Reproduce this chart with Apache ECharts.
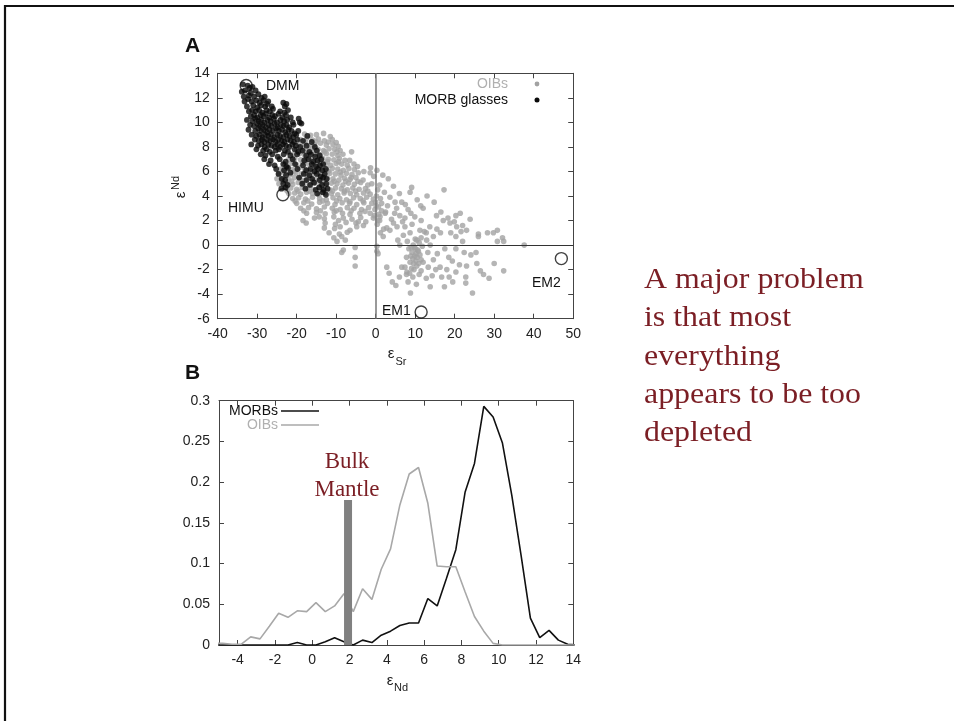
<!DOCTYPE html>
<html>
<head>
<meta charset="utf-8">
<script src="https://cdn.jsdelivr.net/npm/echarts@6/dist/echarts.min.js"></script>
<style>
  html, body { margin: 0; padding: 0; background: #fff; }
  #chart { width: 954px; height: 721px; }
</style>
</head>
<body>
<div id="chart"></div>
<script>
// Panel A: eSr vs eNd for ocean island basalts (grey) and MORB glasses (black)
const oibPoints = [
  [-18.0,9.05],[-16.5,8.95],[-15.0,9.0],[-13.2,9.1],[-11.5,8.85],
  [-19.0,8.6],[-17.5,8.7],[-16.0,8.55],[-14.5,8.65],[-13.0,8.5],[-11.0,8.6],[-10.0,8.35],
  [-19.5,8.2],[-18.0,8.25],[-16.8,8.1],[-15.5,8.2],[-14.0,8.3],[-12.5,8.15],[-10.8,8.2],[-9.5,8.05],
  [-20.0,7.8],[-18.5,7.85],[-17.2,7.75],[-16.0,7.9],[-14.6,7.8],[-13.2,7.7],[-11.8,7.85],[-10.4,7.8],[-9.0,7.7],
  [-21.0,7.4],[-19.3,7.45],[-18.0,7.35],[-16.7,7.5],[-15.3,7.4],[-14.0,7.35],[-12.5,7.45],[-11.0,7.4],[-9.6,7.3],[-8.3,7.4],[-6.1,7.6],
  [-22.0,7.0],[-20.5,7.05],[-19.0,6.95],[-17.6,7.1],[-16.2,7.0],[-14.8,6.9],[-13.4,7.05],[-12.0,7.0],[-10.6,6.95],[-9.2,7.05],[-7.8,6.9],
  [-23.0,6.6],[-21.5,6.65],[-20.0,6.55],[-18.5,6.7],[-17.0,6.6],[-15.6,6.5],[-14.2,6.65],[-12.8,6.6],[-11.4,6.5],[-10.0,6.65],[-8.6,6.6],[-7.2,6.5],[-5.5,6.6],
  [-24.0,6.2],[-22.5,6.25],[-21.0,6.15],[-19.4,6.3],[-18.0,6.2],[-16.6,6.1],[-15.2,6.25],[-13.8,6.2],[-12.4,6.1],[-11.0,6.25],[-9.6,6.2],[-8.2,6.1],[-6.8,6.25],[-5.4,6.15],[-1.3,6.3],[0.3,6.1],
  [-24.5,5.8],[-23.0,5.85],[-21.6,5.75],[-20.2,5.9],[-18.8,5.8],[-17.3,5.7],[-15.9,5.85],[-14.5,5.8],[-13.0,5.7],[-11.6,5.85],[-10.2,5.8],[-8.8,5.7],[-7.4,5.85],[-6.0,5.75],[-4.4,5.9],[-1.4,5.9],[1.8,5.7],
  [-25.0,5.4],[-23.5,5.45],[-22.0,5.35],[-20.6,5.5],[-19.2,5.4],[-17.8,5.3],[-16.4,5.45],[-15.0,5.4],[-13.6,5.3],[-12.2,5.45],[-10.8,5.4],[-9.3,5.3],[-7.9,5.45],[-6.5,5.35],[-5.0,5.5],[-3.2,5.3],[3.2,5.4],
  [-24.5,5.0],[-22.5,5.05],[-21.0,4.95],[-19.6,5.1],[-18.2,5.0],[-16.8,4.9],[-15.4,5.05],[-14.0,5.0],[-12.6,4.9],[-11.2,5.05],[-9.8,5.0],[-8.3,4.9],[-6.9,5.05],[-5.4,4.95],[-3.8,5.1],[-2.0,4.9],[4.5,4.8],
  [-23.0,4.6],[-21.5,4.65],[-20.0,4.55],[-18.6,4.7],[-17.2,4.6],[-15.8,4.5],[-14.4,4.65],[-13.0,4.6],[-11.6,4.5],[-10.2,4.65],[-8.7,4.6],[-7.2,4.5],[-5.8,4.65],[-4.2,4.55],[-2.6,4.6],[0.5,4.5],[9.1,4.7],[17.3,4.5],
  [-22.0,4.2],[-20.5,4.25],[-19.0,4.15],[-17.5,4.3],[-16.0,4.2],[-14.4,4.1],[-12.8,4.25],[-11.2,4.2],[-9.6,4.1],[-8.0,4.25],[-6.4,4.2],[-4.8,4.1],[-3.1,4.25],[-1.4,4.15],[3.6,3.9],[8.7,4.3],[13.0,4.0],
  [-21.0,3.8],[-19.5,3.85],[-17.8,3.75],[-16.0,3.9],[-14.2,3.8],[-12.5,3.7],[-10.8,3.85],[-9.1,3.8],[-7.4,3.7],[-5.6,3.85],[-3.9,3.8],[-2.3,3.9],[-0.6,3.75],[1.2,3.8],[4.9,3.5],[10.5,3.7],
  [-20.0,3.4],[-18.2,3.45],[-16.2,3.35],[-14.2,3.5],[-12.2,3.4],[-10.3,3.3],[-8.5,3.45],[-6.6,3.4],[-4.8,3.3],[-3.0,3.45],[-1.0,3.4],[0.7,3.1],[2.5,2.7],[6.6,3.5],[14.8,3.5],
  [-19.0,3.0],[-17.0,3.05],[-15.0,2.95],[-13.0,3.1],[-11.0,3.0],[-9.0,2.9],[-7.2,3.05],[-5.5,3.0],[-3.6,2.9],[-1.8,3.05],[-0.2,2.9],[1.5,3.4],[5.3,3.0],[8.2,2.9],[12.0,3.0],
  [-17.5,2.6],[-15.0,2.65],[-12.8,2.55],[-10.5,2.7],[-8.4,2.6],[-6.5,2.5],[-4.0,2.6],[-1.4,2.6],[0.8,2.5],[2.4,2.6],[6.1,2.4],[9.9,2.3],[15.4,2.4],[20.3,2.4],[21.4,2.6],
  [-18.4,2.0],[-15.5,2.2],[-13.0,2.15],[-10.6,2.3],[-8.2,2.2],[-6.0,2.1],[-3.8,2.25],[-0.6,2.2],[1.1,2.3],[4.0,2.1],[7.4,2.2],[11.5,2.0],[17.1,2.0],[23.9,2.1],
  [-17.6,1.8],[-12.8,1.8],[-10.2,1.7],[-7.5,1.85],[-5.0,1.8],[-2.5,1.9],[0.4,1.7],[4.5,1.8],[6.8,1.9],[13.7,1.5],[18.8,1.8],[19.9,1.9],[22.0,1.6],
  [-13.0,1.4],[-10.4,1.35],[-9.0,1.5],[-6.5,1.2],[-4.8,1.5],[-3.1,1.6],[2.8,1.4],[7.4,1.5],[11.2,1.2],[15.5,1.3],[20.5,1.5],[21.6,1.1],[30.8,1.2],
  [-11.8,1.0],[-9.2,0.9],[-7.2,1.05],[1.2,1.0],[3.6,1.2],[8.7,1.0],[12.3,1.1],[26.0,0.9],[28.3,1.0],[29.8,1.0],
  [-10.6,0.6],[-7.7,0.4],[1.9,0.7],[5.6,0.4],[10.4,0.4],[14.6,0.7],[20.3,0.7],[26.0,0.7],[32.1,0.6],
  [-9.8,0.3],[-8.6,0.7],[0.3,-0.1],[6.1,0.0],[9.5,0.0],[11.0,0.2],[12.9,0.4],[22.0,0.3],[30.8,0.3],[32.4,0.3],
  [-8.2,-0.4],[-5.2,-0.2],[0.3,-0.5],[8.4,-0.3],[9.8,-0.2],[10.6,-0.4],[11.8,-0.1],[17.5,-0.3],[20.3,-0.3],[37.6,0.0],
  [-8.6,-0.6],[0.6,-0.7],[9.2,-0.6],[10.2,-0.7],[10.8,-0.5],[11.2,-0.8],[13.2,-0.6],[22.4,-0.6],[25.4,-0.6],
  [-5.2,-1.0],[7.8,-1.0],[9.4,-1.1],[9.9,-0.9],[10.5,-1.0],[11.5,-1.2],[14.6,-1.2],[18.5,-1.0],[24.1,-0.8],
  [8.7,-1.4],[9.6,-1.5],[10.2,-1.3],[12.0,-1.4],[16.3,-1.8],[25.6,-1.5],
  [-5.2,-1.7],[2.8,-1.8],[6.6,-1.8],[7.4,-1.8],[9.1,-1.9],[10.4,-1.7],[13.3,-1.8],[15.2,-2.0],[18.0,-2.0],[21.2,-1.6],
  [3.4,-2.3],[7.9,-2.2],[8.6,-2.3],[11.5,-2.1],[16.7,-2.6],[20.3,-2.2],[27.3,-2.4],[32.4,-2.1],
  [7.8,-2.4],[9.4,-2.6],[12.8,-2.7],[22.8,-2.6],[28.7,-2.7],
  [4.2,-3.0],[8.2,-3.0],[13.8,-3.4],[19.5,-3.0],[22.8,-3.1],
  [5.1,-3.3],[17.4,-3.4],[8.8,-3.9],[24.5,-3.9],
  [9.0,-0.2],[10.0,0.5],[11.5,0.6],[8.9,-0.9],[10.9,-1.5],[9.7,-2.0],[11.0,-2.4],[10.1,-0.3],
  [0.0,3.5],[-0.3,2.4],[0.5,2.0],[0.2,4.0],[1.5,2.8],
  [-17.8,8.4],[-15.2,8.45],[-12.0,8.4],[-9.8,7.6],[-12.9,7.6],[-15.8,7.6],[-18.8,7.6],
  [-20.8,6.8],[-17.9,6.8],[-15.0,6.75],[-12.2,6.8],[-9.4,6.8],[-6.6,6.9],[-4.6,6.4],
  [-23.6,6.0],[-20.7,6.0],[-17.7,5.95],[-14.9,6.0],[-12.0,6.0],[-9.0,5.95],[-6.2,5.5],[-3.0,6.0],[-0.5,5.6],
  [-23.8,5.2],[-21.3,5.2],[-18.7,5.25],[-15.9,5.2],[-13.2,5.15],[-10.5,5.2],[-7.6,5.2],[-4.5,5.2],[-1.0,5.0],[1.0,4.9],
  [-22.4,4.4],[-19.7,4.4],[-16.8,4.4],[-13.8,4.35],[-10.9,4.4],[-7.9,4.4],[-5.1,4.4],[-2.0,4.4],[2.2,4.3],[6.0,4.2],
  [-20.4,3.6],[-17.2,3.6],[-13.4,3.6],[-9.9,3.6],[-6.5,3.55],[-3.2,3.6],[0.1,3.2],[3.0,3.2],[7.5,3.3],[11.4,3.2],
  [-18.2,2.8],[-14.0,2.8],[-10.0,2.8],[-6.2,2.8],[-2.7,2.75],[1.0,2.0],[4.8,2.6],[8.9,2.6],[16.5,2.7],[18.3,2.2],
  [-14.3,2.3],[-9.4,2.0],[-4.4,1.9],[2.0,1.3],[5.4,1.5],[9.2,1.7],[12.8,1.0],[16.4,1.0],[19.0,1.0],[23.0,1.2],
  [7.0,0.8],[8.0,0.3],[13.8,0.0],[15.6,-0.7],[19.4,-1.3],[23.0,-1.7],[14.3,-2.5],[6.0,-2.6],[10.3,-3.2],[18.6,-2.6],[26.5,-2.1],[30.0,-1.5]
];

const morbPoints = [
  [-33.6,13.1],[-32.4,13.0],[-31.9,12.8],[-31.2,12.9],
  [-33.9,12.5],[-33.1,12.6],[-31.6,12.4],[-30.4,12.6],
  [-33.4,12.1],[-32.1,12.2],[-30.8,12.1],[-29.7,12.3],[-28.9,12.0],[-28.1,12.1],
  [-33.2,11.7],[-32.3,11.9],[-31.4,11.7],[-30.2,11.8],[-29.4,11.6],[-28.4,11.8],[-27.2,11.7],[-23.4,11.6],
  [-32.6,11.3],[-31.0,11.4],[-30.0,11.2],[-29.0,11.4],[-28.0,11.3],[-27.5,11.5],[-26.3,11.3],[-23.0,11.3],[-22.6,11.5],
  [-32.1,10.9],[-31.3,11.0],[-30.4,10.9],[-29.5,11.0],[-28.7,10.8],[-27.6,11.0],[-26.8,10.9],[-26.0,11.1],[-24.2,10.9],[-23.1,10.8],[-22.2,11.0],
  [-31.6,10.5],[-30.8,10.6],[-30.0,10.4],[-29.1,10.6],[-28.4,10.5],[-27.8,10.7],[-27.0,10.4],[-26.2,10.6],[-25.5,10.5],[-24.6,10.7],[-23.6,10.4],[-22.7,10.6],[-21.5,10.4],[-19.5,10.3],
  [-32.6,10.2],[-31.2,10.1],[-30.5,10.3],[-29.6,10.1],[-29.0,10.2],[-28.2,10.0],[-27.4,10.2],[-26.6,10.1],[-25.8,10.3],[-25.0,10.0],[-24.1,10.2],[-23.2,10.1],[-22.4,10.2],[-21.0,10.0],[-19.2,10.0],
  [-31.8,9.8],[-30.8,9.7],[-30.0,9.9],[-29.3,9.7],[-28.6,9.8],[-27.8,9.6],[-27.1,9.8],[-26.4,9.7],[-25.6,9.9],[-24.8,9.6],[-24.0,9.8],[-23.3,9.7],[-22.6,9.8],[-21.9,9.6],[-20.8,9.8],[-18.8,9.9],
  [-32.2,9.4],[-30.5,9.3],[-29.7,9.5],[-29.0,9.3],[-28.3,9.4],[-27.5,9.2],[-26.9,9.4],[-26.0,9.3],[-25.2,9.5],[-24.5,9.3],[-23.7,9.4],[-22.9,9.2],[-22.1,9.4],[-21.3,9.3],[-20.5,9.1],[-19.6,9.3],
  [-31.4,9.0],[-30.2,8.9],[-29.4,9.0],[-28.7,8.8],[-28.0,9.0],[-27.2,8.9],[-26.5,9.0],[-25.7,8.8],[-24.9,9.0],[-24.2,8.9],[-23.4,8.8],[-22.6,9.0],[-21.8,8.9],[-20.9,8.8],[-20.1,9.0],[-17.3,8.9],
  [-30.6,8.6],[-29.6,8.5],[-28.8,8.6],[-28.2,8.4],[-27.5,8.6],[-26.7,8.5],[-26.0,8.6],[-25.3,8.4],[-24.6,8.6],[-23.8,8.5],[-23.1,8.4],[-22.3,8.6],[-21.5,8.5],[-20.7,8.4],[-19.8,8.6],[-18.4,8.5],[-16.2,8.4],
  [-31.5,8.2],[-29.8,8.1],[-28.9,8.2],[-28.1,8.0],[-27.2,8.2],[-26.4,8.1],[-25.6,8.0],[-24.9,8.2],[-24.2,8.0],[-23.5,8.2],[-22.7,8.1],[-21.9,8.0],[-21.1,8.2],[-20.2,8.1],[-19.1,8.0],[-17.5,8.1],[-15.4,8.0],
  [-30.2,7.8],[-28.5,7.7],[-27.6,7.8],[-26.8,7.6],[-25.3,7.7],[-24.5,7.8],[-23.0,7.7],[-22.2,7.6],[-20.5,7.8],[-19.6,7.6],[-18.5,7.7],[-16.8,7.6],[-14.9,7.7],
  [-29.1,7.4],[-27.9,7.3],[-26.2,7.4],[-24.8,7.2],[-23.3,7.4],[-21.6,7.3],[-19.9,7.4],[-17.6,7.3],[-16.4,7.4],[-15.3,7.2],[-14.2,7.3],
  [-28.2,7.0],[-26.6,6.9],[-24.3,7.0],[-22.8,6.8],[-21.0,7.0],[-18.1,6.9],[-17.0,7.0],[-15.8,6.8],[-14.7,6.9],[-13.8,7.0],
  [-27.0,6.6],[-25.6,6.5],[-23.4,6.6],[-22.6,6.4],[-20.4,6.6],[-18.4,6.5],[-16.2,6.6],[-15.1,6.4],[-14.1,6.5],[-13.3,6.6],
  [-25.2,6.2],[-23.2,6.1],[-22.2,6.3],[-19.8,6.2],[-17.6,6.1],[-16.5,6.2],[-15.5,6.0],[-14.6,6.2],[-13.5,6.1],[-12.6,6.2],
  [-24.6,5.8],[-22.7,5.7],[-21.6,5.9],[-18.2,5.8],[-16.8,5.7],[-14.9,5.8],[-13.9,5.6],[-12.9,5.8],
  [-23.8,5.4],[-22.9,5.3],[-19.4,5.5],[-17.5,5.3],[-16.1,5.4],[-14.2,5.3],[-13.3,5.5],[-12.4,5.4],
  [-23.4,5.0],[-22.3,4.9],[-18.6,5.0],[-16.6,4.9],[-15.6,5.1],[-13.6,4.9],[-12.5,5.0],
  [-23.9,4.6],[-22.8,4.7],[-17.8,4.6],[-15.2,4.5],[-14.3,4.7],[-13.2,4.5],[-12.2,4.6],
  [-14.8,4.2],[-13.4,4.3],[-12.6,4.1]
];

// Mantle end-member compositions (open circles) and their names
const endMembers = [[-32.8, 13.0], [-23.5, 4.1], [11.5, -5.45], [47.0, -1.1]];
const endMemberNames = ['DMM', 'HIMU', 'EM1', 'EM2'];

// Panel B: eNd frequency distributions, bins every 0.5
const histX = [-5.3,-4.8,-4.3,-3.8,-3.3,-2.8,-2.3,-1.8,-1.3,-0.8,-0.3,0.2,0.7,1.2,1.7,2.2,2.7,3.2,3.7,4.2,
               4.7,5.2,5.7,6.2,6.7,7.2,7.7,8.2,8.7,9.2,9.7,10.2,10.7,11.2,11.7,12.2,12.7,13.2,13.7,14.2];
const morbFreq = [0,0,0,0,0,0,0,0,0,0.003,0,0,0.004,0.009,0.004,0,0.006,0.003,0.012,0.017,
                  0.024,0.027,0.027,0.057,0.048,0.082,0.117,0.188,0.223,0.293,0.280,0.248,0.184,0.110,0.033,0.009,0.018,0.006,0.001,0];
const oibFreq = [0.002,0.002,0.001,0.001,0.010,0.0075,0.023,0.039,0.034,0.042,0.041,0.052,0.041,0.048,0.063,0.041,0.069,0.056,0.093,0.118,
                 0.172,0.210,0.218,0.174,0.097,0.096,0.096,0.065,0.035,0.017,0.002,0,0,0,0,0,0,0,0,0];
const bulkMantle = [1.92, 0.178];
const ndTickValues = [-4, -2, 0, 2, 4, 6, 8, 10, 12, 14];

const SANS = '"Liberation Sans", Arial, Helvetica, sans-serif';
const SERIF = '"Liberation Serif", "Times New Roman", serif';
const AXIS_COLOR = '#444';
const RED = '#7b1e24';

function frameAxis(gridIndex, position, opts) {
  const showLabel = position === 'bottom' || position === 'left';
  return Object.assign({
    type: 'value',
    gridIndex: gridIndex,
    position: position,
    axisLine: { show: true, onZero: false, lineStyle: { color: AXIS_COLOR, width: 1 } },
    axisTick: { show: true, inside: true, length: 5, lineStyle: { color: AXIS_COLOR, width: 1 } },
    splitLine: { show: false },
    axisLabel: { show: showLabel, color: '#222', fontSize: 14, fontFamily: SANS, margin: 8 }
  }, opts);
}

const srAxis = { min: -40, max: 50, interval: 10 };
const ndAxisA = { min: -6, max: 14, interval: 2 };
const ndAxisB = {
  min: -5, max: 14,
  axisTick: { show: true, inside: true, length: 5, customValues: ndTickValues, lineStyle: { color: AXIS_COLOR, width: 1 } }
};
const freqAxis = { min: 0, max: 0.3, interval: 0.05 };

function txt(x, y, text, font, fill, align, valign, extra) {
  return Object.assign({
    type: 'text', x: x, y: y, z: 100,
    style: { text: text, font: font, fill: fill,
             textAlign: align || 'left', textVerticalAlign: valign || 'middle',
             align: align || 'left', verticalAlign: valign || 'middle' }
  }, extra || {});
}

const chart = echarts.init(document.getElementById('chart'), null, { renderer: 'canvas' });

chart.setOption({
  animation: false,
  backgroundColor: '#ffffff',
  grid: [
    { left: 217.7, top: 73.3, width: 355.5, height: 245.4 },
    { left: 219, top: 400.7, width: 354.3, height: 244.3 }
  ],
  xAxis: [
    frameAxis(0, 'bottom', srAxis),
    frameAxis(0, 'top', srAxis),
    frameAxis(1, 'bottom', Object.assign({}, ndAxisB, {
      axisLabel: { show: true, color: '#222', fontSize: 14, fontFamily: SANS, margin: 8, customValues: ndTickValues }
    })),
    frameAxis(1, 'top', ndAxisB)
  ],
  yAxis: [
    frameAxis(0, 'left', ndAxisA),
    frameAxis(0, 'right', ndAxisA),
    frameAxis(1, 'left', Object.assign({}, freqAxis, {
      axisLabel: { show: true, color: '#222', fontSize: 14, fontFamily: SANS, margin: 9 }
    })),
    frameAxis(1, 'right', freqAxis)
  ],
  series: [
    {
      name: 'OIBs', type: 'scatter', xAxisIndex: 0, yAxisIndex: 0,
      data: oibPoints, symbol: 'circle', symbolSize: 5.6,
      itemStyle: { color: '#a2a2a2' },
      markLine: {
        silent: true, symbol: ['none', 'none'], label: { show: false },
        data: [
          { xAxis: 0, lineStyle: { color: '#777', width: 1.5, type: 'solid' } },
          { yAxis: 0, lineStyle: { color: '#333', width: 1, type: 'solid' } }
        ]
      }
    },
    {
      name: 'MORB glasses', type: 'scatter', xAxisIndex: 0, yAxisIndex: 0,
      data: morbPoints, symbol: 'circle', symbolSize: 5.8,
      itemStyle: { color: '#0a0a0a' }
    },
    {
      name: 'end members', type: 'scatter', xAxisIndex: 0, yAxisIndex: 0,
      data: endMembers, symbol: 'circle', symbolSize: 12, z: 5,
      itemStyle: { color: 'rgba(255,255,255,0)', borderColor: '#111', borderWidth: 1.4 }
    },
    {
      name: 'MORBs', type: 'line', xAxisIndex: 2, yAxisIndex: 2,
      data: histX.map((x, i) => [x, morbFreq[i]]),
      showSymbol: false, clip: true,
      lineStyle: { color: '#111', width: 1.6 }
    },
    {
      name: 'OIBs', type: 'line', xAxisIndex: 2, yAxisIndex: 2,
      data: histX.map((x, i) => [x, oibFreq[i]]),
      showSymbol: false, clip: true,
      lineStyle: { color: '#a8a8a8', width: 1.6 }
    },
    {
      name: 'Bulk Mantle', type: 'bar', xAxisIndex: 2, yAxisIndex: 2,
      data: [bulkMantle], barWidth: 8, z: 4,
      itemStyle: { color: '#808080' }
    }
  ],
  graphic: [
    // slide frame
    { type: 'line', z: 100, shape: { x1: 4, y1: 6, x2: 954, y2: 6 }, style: { stroke: '#111', lineWidth: 2.2 } },
    { type: 'line', z: 100, shape: { x1: 5, y1: 5, x2: 5, y2: 721 }, style: { stroke: '#111', lineWidth: 2.2 } },
    // panel letters
    txt(185, 46, 'A', 'bold 21px ' + SANS, '#111', 'left', 'middle'),
    txt(185, 373, 'B', 'bold 21px ' + SANS, '#111', 'left', 'middle'),
    // panel A legend
    txt(508, 84, 'OIBs', '14px ' + SANS, '#b0b0b0', 'right', 'middle'),
    { type: 'circle', z: 100, shape: { cx: 537, cy: 84, r: 2.4 }, style: { fill: '#a2a2a2' } },
    txt(508, 100, 'MORB glasses', '14px ' + SANS, '#111', 'right', 'middle'),
    { type: 'circle', z: 100, shape: { cx: 537, cy: 100, r: 2.5 }, style: { fill: '#0a0a0a' } },
    // end-member labels
    txt(266, 86, endMemberNames[0], '14px ' + SANS, '#111', 'left', 'middle'),
    txt(228, 208, endMemberNames[1], '14px ' + SANS, '#111', 'left', 'middle'),
    txt(382, 311, endMemberNames[2], '14px ' + SANS, '#111', 'left', 'middle'),
    txt(532, 283, endMemberNames[3], '14px ' + SANS, '#111', 'left', 'middle'),
    // axis titles
    txt(391, 354, 'ε', '15px ' + SANS, '#222', 'center', 'middle'),
    txt(401, 362, 'Sr', '11px ' + SANS, '#222', 'center', 'middle'),
    txt(181, 195, 'ε', '15px ' + SANS, '#222', 'center', 'middle', { rotation: Math.PI / 2 }),
    txt(176, 183, 'Nd', '11px ' + SANS, '#222', 'center', 'middle', { rotation: Math.PI / 2 }),
    txt(390, 681, 'ε', '15px ' + SANS, '#222', 'center', 'middle'),
    txt(401, 688, 'Nd', '11px ' + SANS, '#222', 'center', 'middle'),
    // panel B legend
    txt(278, 411, 'MORBs', '14px ' + SANS, '#111', 'right', 'middle'),
    { type: 'line', z: 100, shape: { x1: 281, y1: 411, x2: 319, y2: 411 }, style: { stroke: '#111', lineWidth: 1.6 } },
    txt(278, 425, 'OIBs', '14px ' + SANS, '#b0b0b0', 'right', 'middle'),
    { type: 'line', z: 100, shape: { x1: 281, y1: 425, x2: 319, y2: 425 }, style: { stroke: '#a8a8a8', lineWidth: 1.6 } },
    // annotations
    {
      type: 'text', x: 347, y: 447.5, z: 100,
      style: { text: 'Bulk\nMantle', font: '23px ' + SERIF, fill: RED, lineHeight: 28.5,
               textAlign: 'center', textVerticalAlign: 'top', align: 'center', verticalAlign: 'top' }
    },
    {
      type: 'text', x: 644, y: 261.5, z: 100, scaleX: 1.1,
      style: { text: 'A major problem\nis that most\neverything\nappears to be too\ndepleted',
               font: '29px ' + SERIF, fill: RED, lineHeight: 38.2,
               textAlign: 'left', textVerticalAlign: 'top', align: 'left', verticalAlign: 'top' }
    }
  ]
});
</script>
</body>
</html>
